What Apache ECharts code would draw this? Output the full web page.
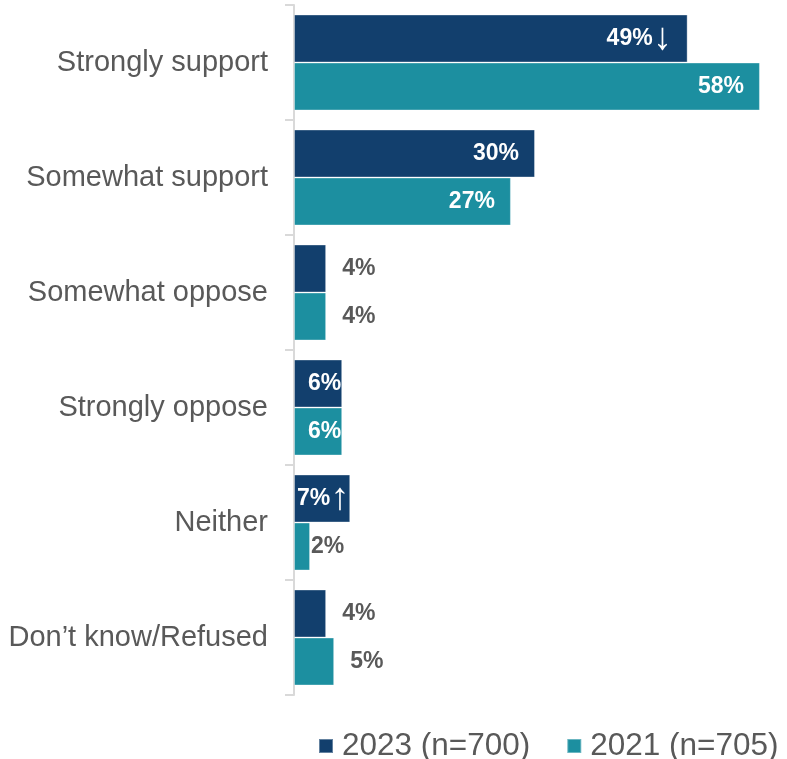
<!DOCTYPE html>
<html>
<head>
<meta charset="utf-8">
<script src="https://cdn.jsdelivr.net/npm/echarts@6/dist/echarts.min.js"></script>
<style>
  html, body { margin: 0; padding: 0; background: #fff; }
  #chart { width: 787px; height: 759px; }
</style>
</head>
<body>
<div id="chart"></div>
<script>
// Support / opposition responses, 2023 vs 2021 (percent)
const categories = ['Strongly support', 'Somewhat support', 'Somewhat oppose', 'Strongly oppose', 'Neither', 'Don\u2019t know/Refused'];
const values2023 = [49, 30, 4, 6, 7, 4];
const values2021 = [58, 27, 4, 6, 2, 5];
// Significant change markers for 2023 vs 2021
const sigMarks2023 = ['\u2193', '', '', '', '\u2191', ''];
const sigMarks2021 = ['', '', '', '', '', ''];
const seriesNames = ['2023 (n=700)', '2021 (n=705)'];

const NAVY = '#123F6D';
const TEAL = '#1C8FA0';
const FONT = '"Liberation Sans", Arial, sans-serif';

function buildData(values, marks) {
  return values.map(function (v, i) {
    const inside = v >= 6;
    return {
      value: v,
      label: {
        show: true,
        position: inside ? 'insideRight' : 'right',
        distance: inside ? (v >= 20 ? 16 : 1) : (v <= 2 ? 1 : 16),
        formatter: function () {
          return '{v|' + v + '%}' + (marks[i] ? '{a|' + marks[i] + '}' : '');
        },
        rich: {
          v: { fontFamily: FONT, fontWeight: 'bold', fontSize: 23, lineHeight: 28, color: inside ? '#ffffff' : '#595959' },
          a: { fontFamily: FONT, fontWeight: 'normal', fontSize: 38, lineHeight: 28, color: inside ? '#ffffff' : '#595959' }
        }
      }
    };
  });
}

const chart = echarts.init(document.getElementById('chart'), null, { renderer: 'canvas' });
chart.setOption({
  animation: false,
  backgroundColor: '#ffffff',
  grid: { left: 294, right: 11, top: 5, bottom: 64, containLabel: false },
  xAxis: {
    type: 'value', min: 0, max: 60,
    show: false
  },
  yAxis: {
    type: 'category',
    inverse: true,
    data: categories,
    axisLine: { show: true, lineStyle: { color: '#D9D9D9', width: 2 } },
    axisTick: { show: true, length: 9, lineStyle: { color: '#D9D9D9', width: 2 } },
    axisLabel: { fontFamily: FONT, fontSize: 29, color: '#595959', margin: 26 }
  },
  legend: {
    top: 725,
    left: 313,
    width: 474,
    padding: 5,
    icon: 'rect',
    itemWidth: 14,
    itemHeight: 14,
    itemGap: 36,
    textStyle: { fontFamily: FONT, fontSize: 31.5, color: '#595959', padding: [0, 0, 0, 4] },
    data: seriesNames
  },
  series: [
    {
      name: seriesNames[0], type: 'bar',
      barGap: '0%', barCategoryGap: '16.5%',
      itemStyle: { color: NAVY, borderColor: 'rgba(255,255,255,0.35)', borderWidth: 1 },
      data: buildData(values2023, sigMarks2023)
    },
    {
      name: seriesNames[1], type: 'bar',
      barGap: '0%', barCategoryGap: '16.5%',
      itemStyle: { color: TEAL, borderColor: 'rgba(255,255,255,0.35)', borderWidth: 1 },
      data: buildData(values2021, sigMarks2021)
    }
  ]
});
</script>
</body>
</html>
